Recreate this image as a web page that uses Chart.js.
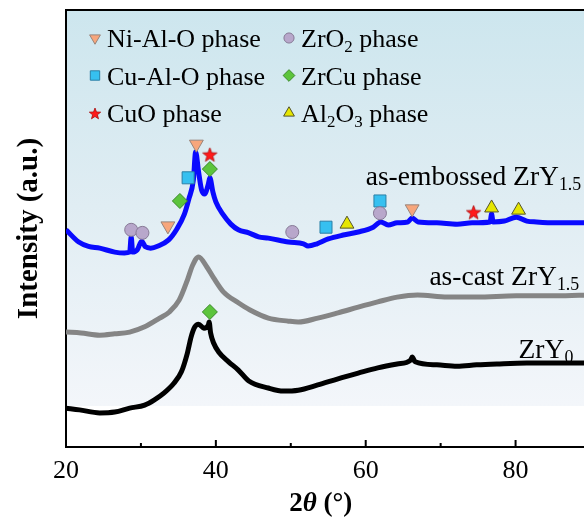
<!DOCTYPE html>
<html>
<head>
<meta charset="utf-8">
<script src="https://cdn.jsdelivr.net/npm/chart.js@4.4.1/dist/chart.umd.min.js"></script>
<style>
  html, body { margin: 0; padding: 0; background: #fff; overflow: hidden; }
  #wrap { width: 600px; height: 520px; position: relative; }
</style>
</head>
<body>
<div id="wrap"><canvas id="xrd"></canvas></div>
<script>
const SERIF = "'Liberation Serif', 'Times New Roman', serif";

// x axis: tick labels and the inward tick marks
const X_TICKS     = [20, 40, 60, 80];
const MAJOR_TICKS = [40, 60, 80];
const MINOR_TICKS = [30, 50, 70];

// as-embossed ZrY1.5 (blue)
const embTheta = [20.0, 21.7, 23.0, 24.5, 26.5, 27.8, 28.5, 28.7, 28.9, 29.5, 30.1, 30.6, 31.3, 32.3, 33.7, 34.8, 35.8, 36.4, 37.0, 37.3,
                  37.7, 38.1, 38.5, 39.0, 39.2, 39.6, 40.0, 41.0, 42.0, 43.0, 44.4, 45.7, 47.0, 49.7, 51.7, 52.3, 53.5, 55.0, 57.0, 59.0,
                  61.0, 62.0, 63.0, 64.2, 65.6, 66.2, 67.0, 69.5, 72.2, 74.2, 76.6, 76.8, 77.0, 78.5, 80.1, 81.5, 82.8, 85.4, 88.0, 90.0];
const embInt   = [49.7, 46.9, 45.9, 45.5, 44.6, 44.4, 44.6, 48.1, 44.6, 45.1, 47.1, 45.8, 45.5, 46.0, 47.4, 49.9, 53.3, 56.8, 61.1, 67.5,
                  62.9, 58.8, 57.9, 60.2, 61.6, 58.4, 56.1, 53.1, 51.0, 49.7, 49.0, 48.1, 47.8, 46.9, 46.5, 46.0, 46.5, 47.6, 48.5, 49.2,
                  50.3, 51.5, 50.8, 51.3, 51.5, 52.4, 51.5, 51.3, 51.0, 51.3, 51.5, 53.3, 51.5, 51.7, 52.6, 51.7, 51.5, 51.3, 51.3, 51.3];

// as-cast ZrY1.5 (grey)
const castTheta = [20.0, 22.0, 24.5, 26.5, 28.5, 30.5, 32.5, 33.8, 35.1, 36.2, 36.9, 37.7, 38.8, 39.7, 41.0, 43.0, 44.5, 47.0, 49.7, 51.0,
                   53.6, 56.3, 59.0, 61.6, 64.2, 66.9, 70.9, 74.8, 80.1, 85.4, 90.0];
const castInt   = [26.3, 26.1, 25.6, 25.9, 26.3, 27.5, 29.5, 30.9, 33.6, 38.2, 41.6, 43.5, 41.2, 38.7, 35.5, 33.0, 31.4, 29.5, 28.8, 28.6,
                   29.5, 30.7, 32.0, 33.2, 34.3, 34.8, 34.3, 34.3, 34.6, 34.6, 34.8];

// ZrY0 (black)
const y0Theta = [20.0, 21.8, 24.5, 26.5, 28.5, 30.5, 31.8, 33.1, 34.4, 35.4, 36.2, 36.7, 37.2, 37.7, 38.4, 39.0, 39.1, 39.3, 39.7, 40.4,
                 41.7, 43.0, 44.4, 47.0, 49.0, 51.0, 53.6, 56.3, 59.0, 61.6, 64.2, 66.0, 66.2, 66.6, 69.5, 72.2, 74.8, 77.5, 81.5, 85.4, 90.0];
const y0Int   = [8.9, 8.5, 7.8, 8.0, 8.9, 9.6, 10.8, 12.4, 14.6, 17.2, 21.5, 25.2, 27.5, 28.1, 27.2, 27.9, 28.6, 26.1, 23.8, 21.7,
                 19.5, 17.6, 15.1, 13.5, 12.8, 13.0, 14.2, 15.6, 16.9, 18.1, 19.0, 19.9, 20.6, 19.5, 18.8, 18.5, 18.8, 19.0, 19.2, 19.2, 19.2];

// phase markers
const niAlOTheta = [33.6, 37.4, 66.2];        const niAlOInt = [50.6, 69.3, 54.5];
const zrO2Theta  = [28.7, 30.2, 50.2, 61.9];  const zrO2Int  = [49.7, 49.0, 49.2, 53.5];
const cuAlOTheta = [36.3, 54.7, 61.9];        const cuAlOInt = [61.6, 50.3, 56.3];
const zrCuTheta  = [35.2, 39.2, 39.2];        const zrCuInt  = [56.3, 63.6, 30.9];
const cuOTheta   = [39.2, 74.4];              const cuOInt   = [67.0, 53.8];
const al2O3Theta = [57.5, 76.8, 80.4];        const al2O3Int = [51.0, 54.7, 54.2];

const pts = (xs, ys) => xs.map((x, i) => ({ x, y: ys[i] }));

function starImage(size, fill, stroke) {
    const c = document.createElement('canvas');
    c.width = c.height = size;
    const g = c.getContext('2d');
    const r = size / 2 - 1, r2 = r * 0.42;
    g.beginPath();
    for (let i = 0; i < 10; i++) {
        const a = -Math.PI / 2 + i * Math.PI / 5;
        const rr = i % 2 ? r2 : r;
        g.lineTo(size / 2 + rr * Math.cos(a), size / 2 + 1 + rr * Math.sin(a));
    }
    g.closePath();
    g.fillStyle = fill; g.fill();
    g.strokeStyle = stroke; g.lineWidth = 0.7; g.stroke();
    return c;
}

// label is a list of [text, subscript?] runs
const PHASES = [
    { label: [['Ni-Al-O phase']],                               data: pts(niAlOTheta, niAlOInt), style: 'triangle', rotation: 180, radius: 8,   fill: '#f7a67c', stroke: '#98857c' },
    { label: [['ZrO'], ['2', 1], [' phase']],                   data: pts(zrO2Theta, zrO2Int),   style: 'circle',   rotation: 0,   radius: 6.5, fill: '#b8a7cb', stroke: '#877a96' },
    { label: [['Cu-Al-O phase']],                               data: pts(cuAlOTheta, cuAlOInt), style: 'rect',     rotation: 0,   radius: 8.5, fill: '#36c0f0', stroke: '#2a7fa6' },
    { label: [['ZrCu phase']],                                  data: pts(zrCuTheta, zrCuInt),   style: 'rectRot',  rotation: 0,   radius: 7.5, fill: '#5cc43c', stroke: '#3a8a28' },
    { label: [['CuO phase']],                                   data: pts(cuOTheta, cuOInt),     style: starImage(17, '#ff1a1a', '#a00000'), rotation: 0, radius: 8, fill: '#ff1a1a', stroke: '#a00000' },
    { label: [['Al'], ['2', 1], ['O'], ['3', 1], [' phase']],   data: pts(al2O3Theta, al2O3Int), style: 'triangle', rotation: 0,   radius: 8,   fill: '#e6e600', stroke: '#55552a' },
];
const LEGEND_STAR = starImage(14, '#ff1a1a', '#a00000');

function drawRich(ctx, runs, x, y, size, subDrop) {
    ctx.textBaseline = 'alphabetic';
    ctx.textAlign = 'left';
    runs.forEach(([t, sub]) => {
        ctx.font = (sub ? size * 0.65 : size) + 'px ' + SERIF;
        ctx.fillText(t, x, sub ? y + subDrop : y);
        x += ctx.measureText(t).width;
    });
}

// background gradient inside the axes
const bgPlugin = {
    id: 'bg',
    beforeDraw(chart) {
        const { ctx, chartArea: a } = chart;
        const g = ctx.createLinearGradient(0, a.top, 0, a.bottom);
        g.addColorStop(0, '#cde6ee');
        g.addColorStop(0.45, '#e0edf3');
        g.addColorStop(0.905, '#f3f6fa');
        g.addColorStop(0.906, '#ffffff');
        g.addColorStop(1, '#ffffff');
        ctx.save();
        ctx.fillStyle = g;
        ctx.fillRect(a.left, a.top, a.right - a.left, a.bottom - a.top);
        ctx.restore();
    },
};

// frame top line, inward ticks, legend, curve names and x title
const decorPlugin = {
    id: 'decor',
    afterDraw(chart) {
        const { ctx, chartArea: a, scales: { x, y } } = chart;
        ctx.save();
        ctx.strokeStyle = '#000';
        ctx.lineWidth = 2;
        ctx.beginPath();
        ctx.moveTo(a.left - 1, a.top);
        ctx.lineTo(a.right + 5, a.top);
        MAJOR_TICKS.forEach(v => { const px = x.getPixelForValue(v); ctx.moveTo(px, a.bottom); ctx.lineTo(px, a.bottom - 7); });
        MINOR_TICKS.forEach(v => { const px = x.getPixelForValue(v); ctx.moveTo(px, a.bottom); ctx.lineTo(px, a.bottom - 4); });
        ctx.stroke();

        // legend, 2 columns x 3 rows
        ctx.fillStyle = '#000';
        PHASES.forEach((p, i) => {
            const col = i % 2, row = Math.floor(i / 2);
            const mx = a.left + 29 + col * 194;
            const my = a.top + 28 + row * 37.5;
            ctx.save();
            ctx.fillStyle = p.fill;
            ctx.strokeStyle = p.stroke;
            ctx.lineWidth = 1;
            const style = typeof p.style === 'string' ? p.style : LEGEND_STAR;
            Chart.helpers.drawPoint(ctx, { pointStyle: style, rotation: p.rotation, radius: p.radius * 0.78, borderWidth: 1 }, mx, my);
            ctx.restore();
            drawRich(ctx, p.label, mx + 12, my + 9, 26, 5);
        });

        // curve names
        ctx.fillStyle = '#000';
        drawRich(ctx, [['as-embossed ZrY'], ['1.5', 1]], x.getPixelForValue(60.0), y.getPixelForValue(59.9), 27.5, 5);
        drawRich(ctx, [['as-cast ZrY'], ['1.5', 1]], x.getPixelForValue(68.5), y.getPixelForValue(37.0), 27.5, 5);
        drawRich(ctx, [['ZrY'], ['0', 1]], x.getPixelForValue(80.4), y.getPixelForValue(20.4), 27.5, 5);

        // x title: 2θ (°)
        const tx = x.getPixelForValue(54.0), ty = a.bottom + 64;
        const runs = [['2', 'bold '], ['\u03b8', 'italic bold '], [' (\u00b0)', 'bold ']];
        let w = 0;
        runs.forEach(([t, f]) => { ctx.font = f + '27px ' + SERIF; w += ctx.measureText(t).width; });
        let cx = tx - w / 2;
        ctx.textBaseline = 'alphabetic';
        ctx.textAlign = 'left';
        runs.forEach(([t, f]) => { ctx.font = f + '27px ' + SERIF; ctx.fillText(t, cx, ty); cx += ctx.measureText(t).width; });
        ctx.restore();
    },
};

const curve = (data, color, order) => ({
    type: 'line', data, borderColor: color, borderWidth: 5, pointRadius: 0,
    cubicInterpolationMode: 'monotone', fill: false, order,
});

const marker = p => ({
    type: 'scatter', data: p.data, pointStyle: p.style, rotation: p.rotation,
    pointRadius: p.radius, backgroundColor: p.fill, borderColor: p.stroke, borderWidth: 1, order: 1,
});

new Chart(document.getElementById('xrd'), {
    data: {
        datasets: [
            ...PHASES.map(marker),
            curve(pts(embTheta, embInt), '#0a0aff', 2),
            curve(pts(castTheta, castInt), '#858585', 2),
            curve(pts(y0Theta, y0Int), '#000000', 2),
        ],
    },
    options: {
        responsive: true,
        maintainAspectRatio: false,
        animation: false,
        layout: { padding: { top: 10, right: 5, left: 0, bottom: 0 } },
        plugins: { legend: { display: false }, tooltip: { enabled: false } },
        scales: {
            x: {
                type: 'linear', min: 20, max: 90,
                afterBuildTicks: s => { s.ticks = X_TICKS.map(v => ({ value: v })); },
                afterFit: s => { s.height = 73; },
                grid: { display: false, drawTicks: false },
                border: { display: true, color: '#000', width: 2 },
                ticks: { color: '#000', padding: 9, font: { family: SERIF, size: 26 } },
            },
            y: {
                min: 0, max: 100,
                afterFit: s => { s.width = 66; },
                grid: { display: false, drawTicks: false },
                border: { display: true, color: '#000', width: 2 },
                ticks: { display: false },
                title: { display: true, text: 'Intensity (a.u.)', color: '#000', padding: { top: 12 }, font: { family: SERIF, size: 29, weight: 'bold' } },
            },
        },
    },
    plugins: [bgPlugin, decorPlugin],
});
</script>
</body>
</html>
